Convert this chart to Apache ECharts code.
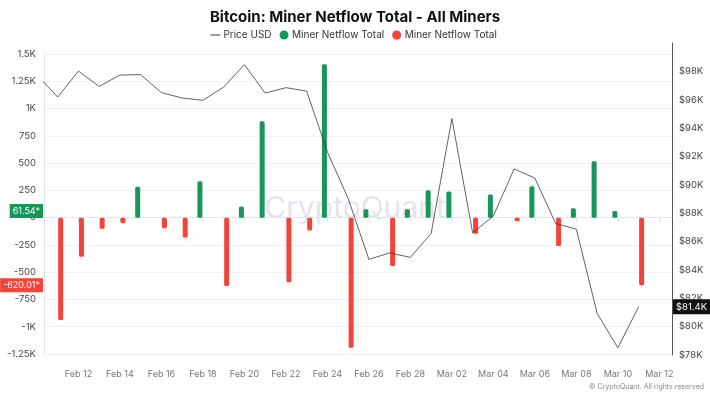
<!DOCTYPE html>
<html>
<head>
<meta charset="utf-8">
<script src="https://cdn.jsdelivr.net/npm/echarts@6/dist/echarts.min.js"></script>
<style>
html,body{margin:0;padding:0;background:#fff;}
#chart{width:710px;height:398px;}
</style>
</head>
<body>
<div id="chart"></div>
<script>
// ---- data ----
const dates = ['2025-02-10','2025-02-11','2025-02-12','2025-02-13','2025-02-14','2025-02-15','2025-02-16','2025-02-17','2025-02-18','2025-02-19','2025-02-20','2025-02-21','2025-02-22','2025-02-23','2025-02-24','2025-02-25','2025-02-26','2025-02-27','2025-02-28','2025-03-01','2025-03-02','2025-03-03','2025-03-04','2025-03-05','2025-03-06','2025-03-07','2025-03-08','2025-03-09','2025-03-10','2025-03-11'];
const priceUSD = [97740,96190,98020,96940,97740,97770,96500,96120,95960,96890,98470,96470,96850,96610,92320,89040,84740,85200,84880,86570,94670,86610,87810,91120,90470,87280,86870,80940,78510,81400];
const netflow = [null,-939,-358,-101,-49,284,-98,-183,333,-627,101,884,-593,-119,1407,-1193,76,-443,76,251,239,-147,211,-34,287,-260,86,517,61.54,-620.01];
const tickDates = ['2025-02-12','2025-02-14','2025-02-16','2025-02-18','2025-02-20','2025-02-22','2025-02-24','2025-02-26','2025-02-28','2025-03-02','2025-03-04','2025-03-06','2025-03-08','2025-03-10','2025-03-12'];
const leftTicks = {min:-1250, max:1500, interval:250};
const rightTicks = {min:78000, max:100000, interval:2000};

// ---- helpers ----
const DAY = 86400000;
const base = Date.parse(dates[0]);
const dayIdx = s => (Date.parse(s) - base) / DAY;
const MONTHS = ['Jan','Feb','Mar','Apr','May','Jun','Jul','Aug','Sep','Oct','Nov','Dec'];
const fmtDay = v => {
  const d = new Date(base + Math.round(v) * DAY);
  return MONTHS[d.getUTCMonth()] + ' ' + String(d.getUTCDate()).padStart(2,'0');
};
const fmtK = v => (Math.abs(v) >= 1000 ? (v/1000) + 'K' : String(v));
const tickVals = tickDates.map(dayIdx);
const greenData = dates.map((d,i) => [dayIdx(d), (netflow[i] != null && netflow[i] > 0) ? netflow[i] : null]);
const redData = dates.map((d,i) => [dayIdx(d), (netflow[i] != null && netflow[i] < 0) ? netflow[i] : null]);
const priceData = dates.map((d,i) => [dayIdx(d), priceUSD[i]]);
let lastGreen = null, lastRed = null;
netflow.forEach(v => { if (v != null && v > 0) lastGreen = v; if (v != null && v < 0) lastRed = v; });
const lastPrice = priceUSD[priceUSD.length-1];

const GREEN = '#16965a', RED = '#f2443a';
const FONT = 'Inter, "Noto Sans", sans-serif';
const xMin = 0.34, xMax = 30.61;
const hiddenLine = {color: 'rgba(0,0,0,0)', width: 0, type: 'solid'};

const chart = echarts.init(document.getElementById('chart'), null, {renderer:'canvas'});
chart.setOption({
  animation: false,
  backgroundColor: '#fff',
  textStyle: {fontFamily: FONT},
  title: {
    text: 'Bitcoin: Miner Netflow Total - All Miners',
    left: 'center', top: 5,
    textStyle: {fontSize: 15, fontWeight: 'bold', color: '#111', fontFamily: FONT}
  },
  legend: {
    top: 25, left: 'center',
    itemGap: 8, itemWidth: 10, itemHeight: 9,
    textStyle: {fontSize: 10, color: '#333', fontFamily: FONT, padding: [0,0,0,-2]},
    data: [
      {name: 'Price USD', icon: 'path://M0,0 L10,0 L10,1 L0,1 Z'},
      {name: 'Miner Netflow Total', icon: 'circle'},
      {name: 'Miner Netflow Total ', icon: 'circle'}
    ]
  },
  graphic: [
    {type:'text', left: 'center', top: 194, z: 0, silent: true,
     style: {text: 'CryptoQuant', fontSize: 30, fontFamily: FONT, fill: 'rgba(205,205,218,0.55)'}},
    {type:'text', right: 6, top: 383, silent: true,
     style: {text: '© CryptoQuant. All rights reserved', fontSize: 7, fontFamily: FONT, fill: '#888'}}
  ],
  grid: [
    {left: 44, right: 38, top: 54, height: 300},
    {left: 44, right: 38, top: 43, height: 312}
  ],
  xAxis: [
    {type: 'value', gridIndex: 0, min: xMin, max: xMax, offset: 8,
     axisLine: {show: true, lineStyle: {color: '#e4e4e4'}},
     axisTick: {show: true, customValues: tickVals, length: 4, lineStyle: {color: '#e0e0e0'}},
     axisLabel: {customValues: tickVals, formatter: fmtDay, fontSize: 9, color: '#777', margin: 8},
     splitLine: {show: false}},
    {type: 'value', gridIndex: 1, min: xMin, max: xMax, show: false}
  ],
  yAxis: [
    {type: 'value', gridIndex: 0, position: 'left', min: leftTicks.min, max: leftTicks.max, interval: leftTicks.interval,
     axisLine: {show: true, lineStyle: {color: '#e4e4e4'}},
     axisTick: {show: false},
     axisLabel: {formatter: fmtK, fontSize: 9.5, color: '#444', margin: 8},
     splitLine: {show: true, lineStyle: {color: '#f1f1f1'}}},
    {type: 'value', gridIndex: 1, position: 'right', min: rightTicks.min, max: rightTicks.max, interval: rightTicks.interval,
     axisLine: {show: true, lineStyle: {color: '#555'}},
     axisTick: {show: false},
     axisLabel: {formatter: v => '$' + (v/1000) + 'K', fontSize: 9.5, color: '#444', margin: 7, showMaxLabel: false},
     splitLine: {show: false}}
  ],
  series: [
    {name: 'Miner Netflow Total', type: 'bar', xAxisIndex: 0, yAxisIndex: 0, data: greenData,
     barWidth: 5, barGap: '20%', itemStyle: {color: GREEN, borderRadius: 1.5}, z: 2,
     markLine: {silent: true, symbol: 'none', animation: false, z: 10,
       lineStyle: hiddenLine, emphasis: {disabled: true},
       label: {show: true, position: 'start', distance: 1, formatter: p => p.value + '*',
         backgroundColor: GREEN, color: '#fff', fontSize: 9, fontFamily: FONT, padding: [3,3,2,3]},
       data: [{yAxis: lastGreen}]}},
    {name: 'Miner Netflow Total ', type: 'bar', xAxisIndex: 0, yAxisIndex: 0, data: redData,
     barWidth: 5, barGap: '20%', itemStyle: {color: RED, borderRadius: 1.5}, z: 2,
     markLine: {silent: true, symbol: 'none', animation: false, z: 10,
       lineStyle: hiddenLine, emphasis: {disabled: true},
       label: {show: true, position: 'start', distance: 1, formatter: p => p.value + '*',
         backgroundColor: RED, color: '#fff', fontSize: 9, fontFamily: FONT, padding: [3,3,2,3]},
       data: [{yAxis: lastRed}]}},
    {name: 'Price USD', type: 'line', xAxisIndex: 1, yAxisIndex: 1, data: priceData,
     symbol: 'none', showSymbol: false, clip: true, z: 4,
     lineStyle: {color: '#3a3a3a', width: 0.8}, itemStyle: {color: '#3a3a3a'},
     markLine: {silent: true, symbol: 'none', animation: false, z: 10,
       lineStyle: hiddenLine, emphasis: {disabled: true},
       label: {show: true, position: 'end', distance: 1,
         formatter: p => '$' + (p.value/1000).toFixed(1) + 'K',
         backgroundColor: '#111', color: '#fff', fontSize: 9.5, fontFamily: FONT, padding: [3,3,2,3]},
       data: [{yAxis: lastPrice}]}}
  ]
});
</script>
</body>
</html>
